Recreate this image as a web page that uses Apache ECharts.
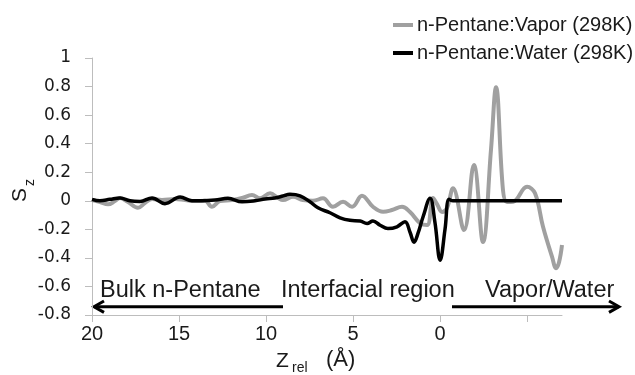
<!DOCTYPE html>
<html>
<head>
<meta charset="utf-8">
<script src="https://cdn.jsdelivr.net/npm/echarts@6/dist/echarts.min.js"></script>
<style>html,body{margin:0;padding:0;background:#fff}#c{width:635px;height:375px}</style>
</head>
<body>
<div id="c"></div>
<script>
// Data (x in axis units, Å; y = Sz)
var seriesNames = ['n-Pentane:Vapor (298K)', 'n-Pentane:Water (298K)'];
var xTicks = [20, 15, 10, 5, 0, -5];
var xLabels = [20, 15, 10, 5, 0];

var vaporZ = [20, 19.54, 19.08, 18.68, 18.39, 17.93, 17.36, 16.96, 16.55, 15.98, 15.23, 14.66, 14.08, 13.51, 13.11, 12.65, 11.96, 11.38, 10.81, 10.35, 9.77, 9.31, 9.03, 8.45, 7.88, 7.31, 6.73, 6.16, 5.58, 5.06, 4.49, 3.86, 3.28, 2.77, 2.19, 1.73, 1.16, 0.75, 0.41, 0.18, -0.11, -0.39, -0.74, -1.37, -1.94, -2.46, -2.92, -3.21, -3.61, -3.84, -4.19, -4.99, -5.45, -5.91, -6.43, -6.66, -6.83, -7.0];
var vaporS = [0.005, -0.009, -0.025, -0.002, 0.019, -0.009, -0.049, -0.016, 0.012, 0.005, 0.012, 0.005, -0.002, 0.0, -0.042, -0.002, 0.005, 0.019, 0.04, 0.017, 0.052, 0.019, 0.005, 0.028, 0.005, 0.0, 0.017, -0.042, -0.007, -0.042, 0.035, -0.042, -0.077, -0.065, -0.042, -0.079, -0.156, -0.17, 0.019, -0.023, -0.079, -0.051, 0.087, -0.205, 0.25, -0.288, 0.356, 0.795, 0.075, -0.009, -0.007, 0.098, 0.052, -0.182, -0.393, -0.472, -0.43, -0.31];

var waterZ = [20, 19.54, 18.97, 18.39, 17.82, 17.24, 16.55, 15.81, 14.94, 14.26, 13.68, 12.93, 12.19, 11.38, 10.64, 10.06, 9.49, 9.03, 8.63, 8.05, 7.48, 7.02, 6.33, 5.75, 5.18, 4.6, 4.2, 3.86, 3.45, 3.0, 2.48, 2.02, 1.73, 1.5, 1.27, 0.98, 0.58, 0.3, 0.0, -0.28, -0.51, -0.74, -1.2, -7.0];
var waterS = [0.01, 0.0, 0.01, 0.02, 0.0, -0.005, 0.02, -0.02, 0.026, 0.0, 0.0, 0.005, 0.017, -0.007, 0.0, 0.012, 0.02, 0.033, 0.045, 0.035, -0.007, -0.049, -0.084, -0.119, -0.137, -0.142, -0.159, -0.142, -0.171, -0.194, -0.182, -0.147, -0.22, -0.29, -0.227, -0.112, 0.017, -0.15, -0.416, -0.2, 0.01, 0.0, 0.0, 0.0];

function zip(a, b) { return a.map(function (v, i) { return [v, b[i]]; }); }

var chart = echarts.init(document.getElementById('c'), null, { renderer: 'canvas' });
var txt = '#1a1a1a';
var font = 'Liberation Sans';
chart.setOption({
  animation: false,
  backgroundColor: '#fff',
  grid: { left: 92, right: 73, top: 58, bottom: 60, containLabel: false },
  legend: {
    orient: 'vertical', left: 388, top: 10,
    icon: 'rect', itemWidth: 20, itemHeight: 4, itemGap: 8,
    textStyle: { fontFamily: font, fontSize: 20, color: txt, padding: [0, 0, 0, -1] },
    data: seriesNames
  },
  xAxis: {
    type: 'value', inverse: true, min: -7, max: 20,
    axisLine: { onZero: false, lineStyle: { color: '#bdbdbd', width: 1 } },
    axisTick: { show: true, length: 7, customValues: xTicks, lineStyle: { color: '#bdbdbd' } },
    axisLabel: { customValues: xLabels, margin: 9, fontFamily: font, fontSize: 20, color: txt },
    splitLine: { show: false }
  },
  yAxis: {
    type: 'value', min: -0.8, max: 1, interval: 0.2, position: 'left',
    axisLine: { show: true, onZero: false, lineStyle: { color: '#bdbdbd', width: 1 } },
    axisTick: { show: true, length: 7, lineStyle: { color: '#bdbdbd' } },
    axisLabel: { margin: 21, fontFamily: 'DejaVu Sans', fontSize: 17, color: txt,
      formatter: function (v) { return String(Math.round(v * 10) / 10); } },
    splitLine: { show: false }
  },
  series: [
    { name: seriesNames[0], type: 'line', data: zip(vaporZ, vaporS), symbol: 'none', smooth: 0.4,
      lineStyle: { color: '#a0a0a0', width: 4 }, itemStyle: { color: '#a0a0a0' }, z: 2 },
    { name: seriesNames[1], type: 'line', data: zip(waterZ, waterS), symbol: 'none', smooth: 0.4,
      lineStyle: { color: '#000', width: 3.5 }, itemStyle: { color: '#000' }, z: 3 }
  ],
  graphic: [
    { type: 'text', left: 100, top: 279, style: { text: 'Bulk n-Pentane', fontFamily: font, fontSize: 23.5, fill: txt } },
    { type: 'text', left: 281, top: 279, style: { text: 'Interfacial region', fontFamily: font, fontSize: 23.5, fill: txt } },
    { type: 'text', left: 485, top: 279, style: { text: 'Vapor/Water', fontFamily: font, fontSize: 23.5, fill: txt } },
    { type: 'polyline', shape: { points: [[283, 306.7], [94, 306.7]] }, style: { stroke: '#000', lineWidth: 3, fill: null } },
    { type: 'polyline', shape: { points: [[104, 301], [94, 306.7], [104, 312.4]] }, style: { stroke: '#000', lineWidth: 3, fill: null } },
    { type: 'polyline', shape: { points: [[452, 306.7], [619, 306.7]] }, style: { stroke: '#000', lineWidth: 3, fill: null } },
    { type: 'polyline', shape: { points: [[609, 301], [619, 306.7], [609, 312.4]] }, style: { stroke: '#000', lineWidth: 3, fill: null } },
    { type: 'text', x: 31, y: 202, rotation: Math.PI / 2, style: { text: 'S', fontFamily: font, fontSize: 21, fill: txt, align: 'left', verticalAlign: 'bottom' } },
    { type: 'text', x: 37, y: 186, rotation: Math.PI / 2, style: { text: 'z', fontFamily: font, fontSize: 14, fill: txt, align: 'left', verticalAlign: 'bottom' } },
    { type: 'text', left: 276, top: 351, style: { text: 'Z', fontFamily: font, fontSize: 21, fill: txt } },
    { type: 'text', left: 292, top: 361, style: { text: 'rel', fontFamily: font, fontSize: 14, fill: txt } },
    { type: 'text', left: 326, top: 349, style: { text: '(Å)', fontFamily: font, fontSize: 22, fill: txt } }
  ]
});
</script>
</body>
</html>
